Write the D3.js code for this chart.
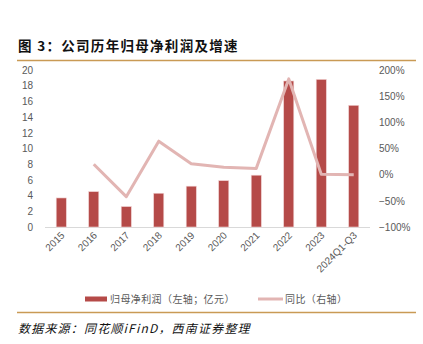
<!DOCTYPE html>
<html><head><meta charset="utf-8">
<script src="https://cdn.jsdelivr.net/npm/d3@7/dist/d3.min.js"></script>
<style>
body{margin:0;background:#fff;}
svg text{font-family:"Noto Sans CJK SC","Liberation Sans",sans-serif;}
</style></head>
<body><svg id="c" width="423" height="344"></svg>
<script>
const categories = ["2015","2016","2017","2018","2019","2020","2021","2022","2023","2024Q1-Q3"];
const profit = [3.7,4.5,2.6,4.3,5.2,5.9,6.6,18.6,18.8,15.5];
const growth = [null,0.20,-0.42,0.64,0.21,0.14,0.12,1.83,0.01,0.00];
const leftTicks = [0,2,4,6,8,10,12,14,16,18,20];
const rightTicks = [-1,-0.5,0,0.5,1,1.5,2];
const title = "图 3：公司历年归母净利润及增速";
const source = "数据来源：同花顺iFinD，西南证券整理";
const legendBar = "归母净利润（左轴；亿元）";
const legendLine = "同比（右轴）";

const svg = d3.select("#c");
const pTop = 70, pBottom = 227, pLeft = 45, pRight = 370;
const x = d3.scaleBand().domain(categories).range([pLeft,pRight]).paddingInner(0.69).paddingOuter(0.345);
const yL = d3.scaleLinear().domain([0,20]).range([pBottom,pTop]);
const yR = d3.scaleLinear().domain([-1,2]).range([pBottom,pTop]);

// title
svg.append("text").attr("x",18).attr("y",51).attr("font-size",13.5).attr("font-weight","bold")
  .attr("letter-spacing",1.3).attr("fill","#111").text(title);
svg.append("line").attr("x1",17).attr("x2",416).attr("y1",60.5).attr("y2",60.5).attr("stroke","#c99a55").attr("stroke-width",1.5);

// axes
const gL = svg.append("g").attr("transform",`translate(${pLeft},0)`)
  .call(d3.axisLeft(yL).tickValues(leftTicks).tickSize(0).tickPadding(12));
gL.select(".domain").remove();
gL.selectAll("text").attr("font-size",10).attr("fill","#595959").style("font-family","Liberation Sans, sans-serif");

const gR = svg.append("g").attr("transform",`translate(${pRight},0)`)
  .call(d3.axisRight(yR).tickValues(rightTicks).tickSize(0).tickPadding(9).tickFormat(d3.format(".0%")));
gR.select(".domain").remove();
gR.selectAll("text").attr("font-size",10).attr("fill","#595959").style("font-family","Liberation Sans, sans-serif");

svg.append("line").attr("x1",pLeft).attr("x2",pRight).attr("y1",pBottom+0.5).attr("y2",pBottom+0.5).attr("stroke","#d9d9d9").attr("stroke-width",1);

// bars
svg.append("g").selectAll("rect").data(profit).join("rect")
  .attr("x",(d,i)=>x(categories[i])).attr("width",x.bandwidth())
  .attr("y",d=>yL(d)).attr("height",d=>pBottom-yL(d))
  .attr("fill","#b54a48").attr("stroke","#f0d0d0").attr("stroke-width",0.6);

// line
const line = d3.line().defined(d=>d.v!==null).x(d=>x(d.c)+x.bandwidth()/2).y(d=>yR(d.v));
svg.append("path").datum(categories.map((c,i)=>({c,v:growth[i]})))
  .attr("d",line).attr("fill","none").attr("stroke","#e2b5b3").attr("stroke-width",3).attr("stroke-linejoin","round");

// x labels
const gX = svg.append("g");
categories.forEach(c=>{
  const cx = x(c)+x.bandwidth()/2+4, cy = 236;
  gX.append("text").attr("transform",`translate(${cx},${cy}) rotate(-45)`)
    .attr("text-anchor","end").attr("font-size",10).attr("fill","#595959")
    .style("font-family","Liberation Sans, sans-serif").text(c);
});

// legend
svg.append("rect").attr("x",85).attr("y",296.5).attr("width",22).attr("height",5).attr("fill","#b54a48");
svg.append("text").attr("x",110).attr("y",303).attr("font-size",10).attr("letter-spacing",0.4).attr("fill","#595959").text(legendBar);
svg.append("line").attr("x1",258).attr("x2",283).attr("y1",299).attr("y2",299).attr("stroke","#e2b5b3").attr("stroke-width",3);
svg.append("text").attr("x",285).attr("y",303).attr("font-size",10).attr("letter-spacing",0.4).attr("fill","#595959").text(legendLine);

svg.append("line").attr("x1",17).attr("x2",416).attr("y1",312.5).attr("y2",312.5).attr("stroke","#c99a55").attr("stroke-width",1.5);
svg.append("text").attr("x",18).attr("y",333).attr("font-size",12).attr("font-style","italic")
  .attr("letter-spacing",1.2).attr("fill","#111").text(source);
</script></body></html>
